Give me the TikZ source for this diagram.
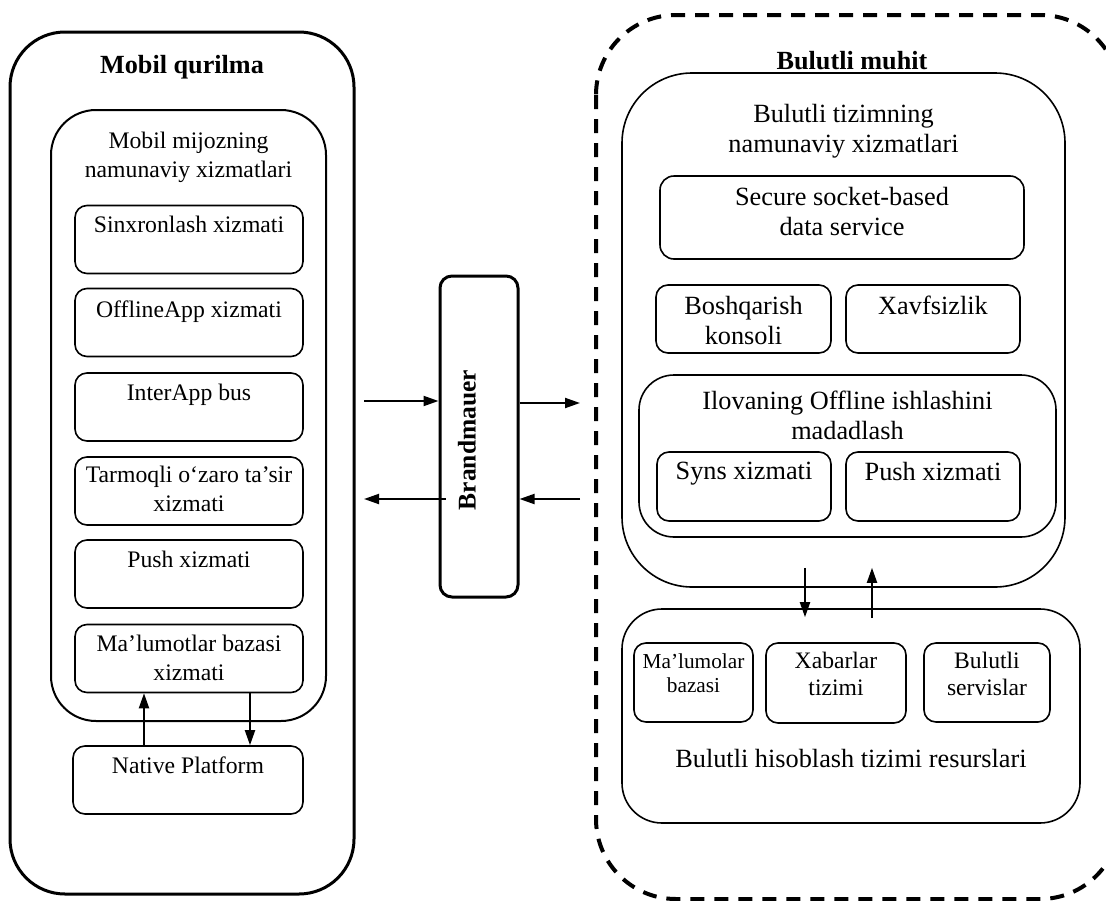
\documentclass[tikz,border=0pt]{standalone}
\usepackage{fontspec}
\setmainfont{Liberation Serif}
\usetikzlibrary{arrows.meta}

\tikzset{
  box/.style={draw, line width=1.6pt, rounded corners=12pt, inner sep=0pt},
  svc/.style={box, minimum width=228pt, minimum height=68pt},
  txt/.style 2 args={label={[anchor=north, align=center, inner sep=0pt, yshift=-#1pt]north:{#2}}},
  arr/.style={->, line width=2pt},
}

\begin{document}
\begin{tikzpicture}[x=1pt, y=-1pt, line join=round, >={Triangle[length=15pt,width=10pt]}]
        \useasboundingbox (0,0) rectangle (1106,900);
        % outer frames and firewall
        \draw[line width=4pt, dash pattern=on 14pt off 10pt, rounded corners=80pt] (596,15) rectangle (1120,899);
        \begin{scope}[font=\fontsize{26.2}{30}\selectfont\bfseries]
        \node[draw, line width=3pt, rounded corners=55pt, minimum width=344pt, minimum height=862pt, txt={25}{Mobil qurilma}] (mob) at (182,463) {};
        \node[draw, line width=3pt, rounded corners=12pt, minimum width=78pt, minimum height=321pt] (brand) at (479,436.5) {};
        \node[rotate=90, font=\fontsize{25.5}{30}\selectfont\bfseries] (brandtxt) at ([xshift=-12pt,yshift=-3.5pt]brand.center) {Brandmauer};
        \node[anchor=north, inner sep=0pt] (envtitle) at (852,51) {Bulutli muhit};
        \end{scope}
        % mobile side
        \begin{scope}[font=\fontsize{23.7}{29}\selectfont]
        \node[box, line width=2pt, rounded corners=45pt, minimum width=275pt, minimum height=611pt, txt={23}{Mobil mijozning\\namunaviy xizmatlari}] (cli) at (188.5,415.5) {};
        \node[svc, txt={11}{Sinxronlash xizmati}] (sinx) at (189,239.5) {};
        \node[svc, txt={13}{OfflineApp xizmati}] (offl) at (189,322.5) {};
        \node[svc, txt={12}{InterApp bus}] (inter) at (189,407) {};
        \node[svc, txt={10}{Tarmoqli o‘zaro ta’sir\\xizmati}] (tarm) at (189,491) {};
        \node[svc, txt={12}{Push xizmati}] (push) at (189,574) {};
        \node[svc, txt={11}{Ma’lumotlar bazasi\\xizmati}] (mdb) at (189,658.5) {};
        \node[svc, minimum width=230pt, txt={11}{Native Platform}] (native) at (188,780) {};
        \end{scope}
        % cloud side
        \begin{scope}[font=\fontsize{26.3}{30}\selectfont]
        \node[box, rounded corners=70pt, minimum width=443pt, minimum height=514pt, txt={32}{Bulutli tizimning\\namunaviy xizmatlari}] (cs) at (843.5,330) {};
        \node[box, rounded corners=14pt, minimum width=364pt, minimum height=83pt, txt={12}{Secure socket-based\\data service}] (sock) at (842,217.5) {};
        \node[box, minimum width=175pt, minimum height=68pt, txt={12}{Boshqarish\\konsoli}] (bosh) at (743.5,319) {};
        \node[box, minimum width=174pt, minimum height=68pt, txt={12}{Xavfsizlik}] (xavf) at (933,319) {};
        \node[box, rounded corners=35pt, minimum width=417pt, minimum height=162pt, txt={17}{Ilovaning Offline ishlashini\\madadlash}] (ilov) at (847.5,456) {};
        \node[box, minimum width=174pt, minimum height=69pt, txt={11}{Syns xizmati}] (syns) at (744,486.5) {};
        \node[box, minimum width=174pt, minimum height=69pt, txt={11}{Push xizmati}] (cpush) at (933,486.5) {};
        \node[box, rounded corners=40pt, minimum width=458pt, minimum height=214pt, txt={141}{Bulutli hisoblash tizimi resurslari}] (res) at (851,716) {};
          \begin{scope}[font=\fontsize{21.3}{24}\selectfont]
          \node[box, minimum width=119pt, minimum height=79pt, txt={11}{Ma’lumolar\\bazasi}] (malum) at (693.5,682.5) {};
          \end{scope}
          \begin{scope}[font=\fontsize{23.6}{27}\selectfont]
          \node[box, minimum width=140pt, minimum height=80pt, txt={10}{Xabarlar\\tizimi}] (xabar) at (836,683) {};
          \node[box, minimum width=126pt, minimum height=79pt, txt={10}{Bulutli\\servislar}] (servis) at (987,682.5) {};
          \end{scope}
        \end{scope}
        % connectors
        \coordinate (inA) at (364,401);
        \coordinate (outB) at (364,499);
        \coordinate (outA) at (580,403);
        \coordinate (inB) at (580,499);
        \draw[arr] ([xshift=-44pt]native.north) -- ([xshift=-45pt]mdb.south);
        \draw[arr] ([xshift=61pt]mdb.south) -- ([xshift=62pt]native.north);
        \draw[arr] (inA) -- (inA -| brand.west);
        \draw[arr] ([xshift=7pt]outB -| brand.west) -- (outB);
        \draw[arr] (outA -| brand.east) -- (outA);
        \draw[arr] (inB) -- (inB -| brand.east);
        \draw[arr] ([xshift=-38.5pt,yshift=20pt]cs.south) -- ([xshift=-46pt,yshift=-9pt]res.north);
        \draw[arr] ([xshift=21pt,yshift=-10pt]res.north) -- ([xshift=28.5pt,yshift=20pt]cs.south);
\end{tikzpicture}
\end{document}
